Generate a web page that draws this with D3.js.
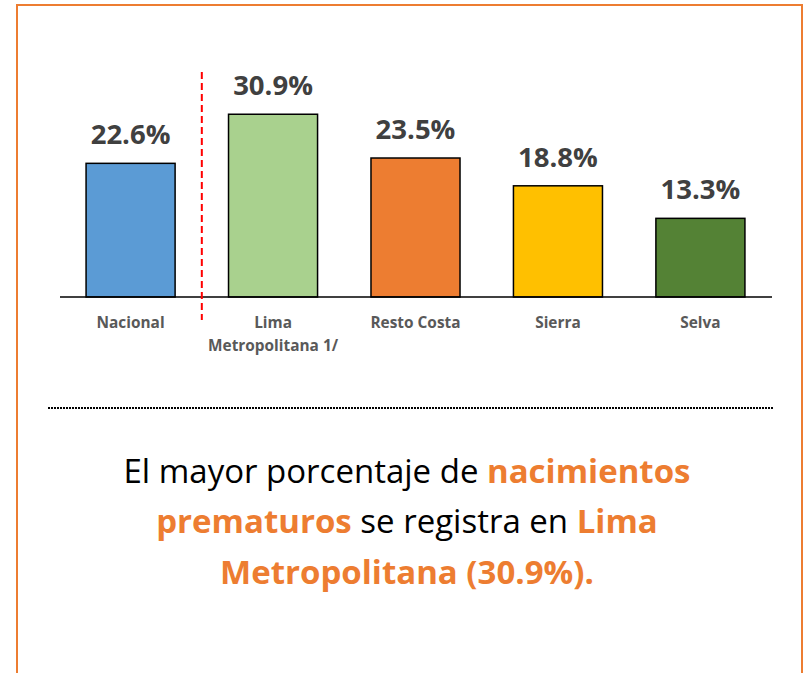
<!DOCTYPE html>
<html>
<head>
<meta charset="utf-8">
<script src="https://cdn.jsdelivr.net/npm/d3@7"></script>
<style>
  html, body { margin: 0; padding: 0; background: #fff; }
  svg { display: block; }
</style>
</head>
<body>
<script>
const categories = ["Nacional", "Lima|Metropolitana 1/", "Resto Costa", "Sierra", "Selva"];
const values = [22.6, 30.9, 23.5, 18.8, 13.3];
const valueLabels = ["22.6%", "30.9%", "23.5%", "18.8%", "13.3%"];
const barColors = ["#5B9BD5", "#A9D18E", "#ED7D31", "#FFC000", "#548235"];
const messageLines = [
  [{t: "El mayor porcentaje de ", b: false}, {t: "nacimientos", b: true}],
  [{t: "prematuros", b: true}, {t: " se registra en ", b: false}, {t: "Lima", b: true}],
  [{t: "Metropolitana (30.9%).", b: true}]
];

const W = 804, H = 673;
const FONT = "'Open Sans', 'Noto Sans', sans-serif";
const ORANGE = "#ED7D31";

const svg = d3.select("body").append("svg").attr("width", W).attr("height", H);
svg.append("rect").attr("width", W).attr("height", H).attr("fill", "#fff");

// orange frame
svg.append("rect")
  .attr("x", 17).attr("y", 5).attr("width", 785).attr("height", H + 10)
  .attr("fill", "none").attr("stroke", ORANGE).attr("stroke-width", 2);

const x = d3.scaleBand().domain(categories).range([59, 772])
  .paddingInner(0.375).paddingOuter(0.19);
const y = d3.scaleLinear().domain([0, 35]).range([297, 90]);

// bars
svg.selectAll("rect.bar").data(values).enter().append("rect")
  .attr("class", "bar")
  .attr("x", (d, i) => x(categories[i]))
  .attr("y", d => y(d))
  .attr("width", x.bandwidth())
  .attr("height", d => y(0) - y(d))
  .attr("fill", (d, i) => barColors[i])
  .attr("stroke", "#000").attr("stroke-width", 1.5);

// baseline axis
const axis = d3.axisBottom(x).tickSize(0).tickFormat("");
const gAxis = svg.append("g").attr("transform", `translate(0,${y(0)})`).call(axis);
gAxis.select(".domain").attr("stroke", "#000").attr("stroke-width", 1.5)
  .attr("d", "M60,0H772");

// value labels
svg.selectAll("text.val").data(values).enter().append("text")
  .attr("class", "val")
  .attr("x", (d, i) => x(categories[i]) + x.bandwidth() / 2)
  .attr("y", d => y(d) - 19)
  .attr("text-anchor", "middle")
  .attr("font-family", FONT).attr("font-weight", 700).attr("font-size", 27.5)
  .attr("fill", "#404040")
  .text((d, i) => valueLabels[i]);

// category labels
categories.forEach((c, i) => {
  const t = svg.append("text")
    .attr("x", x(c) + x.bandwidth() / 2).attr("y", 328)
    .attr("text-anchor", "middle")
    .attr("font-family", FONT).attr("font-weight", 700).attr("font-size", 15.4)
    .attr("fill", "#595959");
  c.split("|").forEach((line, k) => {
    t.append("tspan").attr("x", x(c) + x.bandwidth() / 2).attr("dy", k === 0 ? 0 : 23).text(line);
  });
});

// red dashed separator
const sepX = (x(categories[0]) + x.bandwidth() + x(categories[1])) / 2;
svg.append("line")
  .attr("x1", sepX).attr("x2", sepX).attr("y1", 72).attr("y2", 320)
  .attr("stroke", "#FF0000").attr("stroke-width", 2).attr("stroke-dasharray", "7,4");

// dotted divider
svg.append("line")
  .attr("x1", 48).attr("x2", 773).attr("y1", 408).attr("y2", 408)
  .attr("stroke", "#000").attr("stroke-width", 2).attr("stroke-dasharray", "2,1");

// message
const baselines = [483, 533, 584];
messageLines.forEach((parts, li) => {
  const t = svg.append("text")
    .attr("x", 407).attr("y", baselines[li])
    .attr("text-anchor", "middle")
    .attr("font-family", FONT).attr("font-size", 33);
  parts.forEach(p => {
    t.append("tspan").text(p.t)
      .attr("font-weight", p.b ? 700 : 400)
      .attr("fill", p.b ? ORANGE : "#000");
  });
});
</script>
</body>
</html>
